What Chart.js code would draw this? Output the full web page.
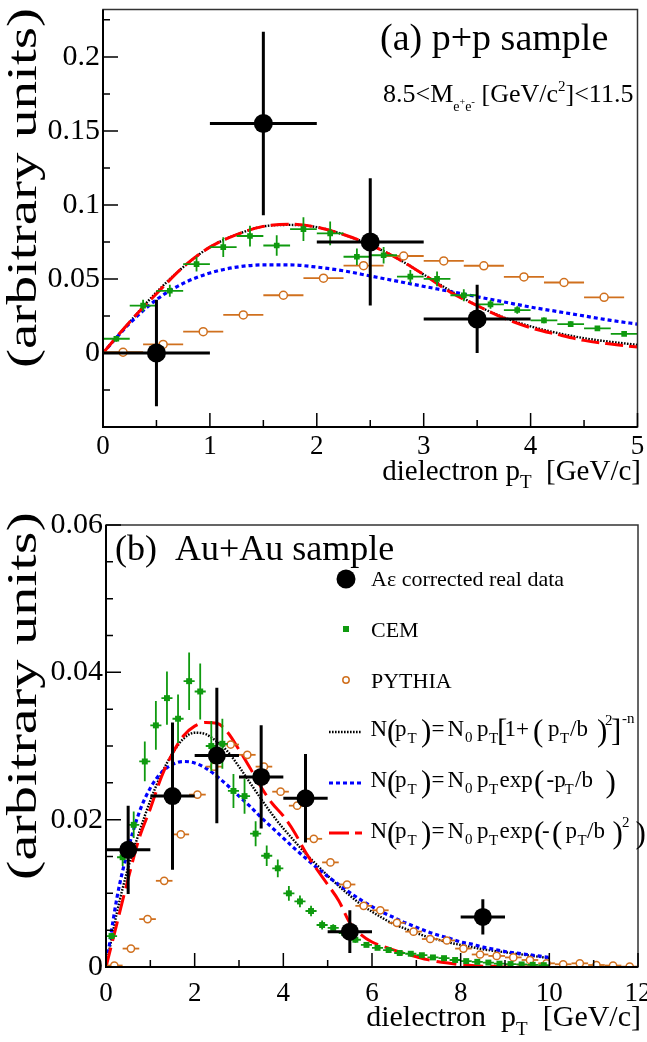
<!DOCTYPE html>
<html><head><meta charset="utf-8">
<script src="https://cdn.jsdelivr.net/npm/chart.js@4/dist/chart.umd.min.js"></script>
<style>
html,body{margin:0;padding:0;background:#fff;}
#wrap{position:relative;width:647px;height:1042px;overflow:hidden;}
#c1{position:absolute;left:0;top:0;}
#c2{position:absolute;left:0;top:500px;}
</style></head><body>
<div id="wrap"><canvas id="c1" width="647" height="500"></canvas><canvas id="c2" width="647" height="542"></canvas></div>
<script>
const FONT = '"Liberation Serif", "Times New Roman", serif';

// ---------------- panel (a): p+p ----------------
const ppDataX  = [0.5, 1.5, 2.5, 3.5];
const ppDataY  = [0.0, 0.155, 0.075, 0.023];
const ppDataEY = [0.036, 0.062, 0.043, 0.023];
const ppDataEX = [0.5, 0.5, 0.5, 0.5];

const ppCemX  = [0.125,0.375,0.625,0.875,1.125,1.375,1.625,1.875,2.125,2.375,2.625,2.875,3.125,3.375,3.625,3.875,4.125,4.375,4.625,4.875];
const ppCemY  = [0.0096,0.032,0.042,0.060,0.0715,0.079,0.0726,0.0837,0.0808,0.065,0.066,0.0516,0.050,0.039,0.0328,0.029,0.022,0.0195,0.0166,0.0129];
const ppCemEY = [0.002,0.004,0.004,0.005,0.0066,0.007,0.007,0.008,0.008,0.0055,0.0055,0.0045,0.005,0.004,0.003,0.0025,0.002,0.002,0.0015,0.0015];

const ppPyX = [0.1875,0.5625,0.9375,1.3125,1.6875,2.0625,2.4375,2.8125,3.1875,3.5625,3.9375,4.3125,4.6875];
const ppPyY = [0.0005,0.0058,0.0144,0.0257,0.039,0.0505,0.059,0.0655,0.0622,0.0589,0.0514,0.0476,0.0376];

const ppFitX  = [0,0.25,0.5,0.75,1,1.25,1.5,1.75,2,2.25,2.5,2.75,3,3.25,3.5,3.75,4,4.25,4.5,4.75,5];
const ppPowY  = [0,0.021,0.041,0.058,0.0715,0.080,0.0855,0.0865,0.085,0.080,0.073,0.064,0.053,0.042,0.032,0.024,0.018,0.0135,0.010,0.0075,0.0055];
const ppExpY  = [0,0.020,0.036,0.047,0.054,0.058,0.0595,0.0595,0.058,0.0555,0.052,0.0485,0.045,0.0415,0.038,0.0345,0.031,0.028,0.025,0.022,0.0195];
const ppGausY = [0,0.021,0.040,0.058,0.0715,0.080,0.0855,0.087,0.085,0.080,0.073,0.064,0.053,0.041,0.032,0.0235,0.017,0.0125,0.0085,0.006,0.004];

const ppXTicks = [0,1,2,3,4,5];
const ppYTicks = [0,0.05,0.1,0.15,0.2];

// ---------------- panel (b): Au+Au ----------------
const auDataX  = [0.5, 1.5, 2.5, 3.5, 4.5, 5.5, 8.5];
const auDataY  = [0.0159, 0.0232, 0.0287, 0.0258, 0.0229, 0.0048, 0.0068];
const auDataEY = [0.006, 0.010, 0.0092, 0.007, 0.006, 0.0029, 0.0024];
const auDataEX = [0.5, 0.5, 0.5, 0.5, 0.5, 0.5, 0.5];

const auCemX = [0.125,0.375,0.625,0.875,1.125,1.375,1.625,1.875,2.125,2.375,2.625,2.875,3.125,3.375,3.625,3.875,4.125,4.375,4.625,4.875,
                5.125,5.375,5.625,5.875,6.125,6.375,6.625,6.875,7.125,7.375,7.625,7.875,8.125,8.375,8.625,8.875,9.125,9.375,9.625,9.875];
const auCemY = [0.0042,0.0149,0.0193,0.0279,0.0328,0.0365,0.0337,0.0388,0.0374,0.0300,0.0303,0.0239,0.0232,0.0181,0.0151,0.0134,0.0100,0.0089,0.0076,0.0057,
                0.0053,0.0046,0.0037,0.0030,0.0026,0.0023,0.0019,0.0018,0.0016,0.0013,0.0012,0.00095,0.0008,0.0007,0.0006,0.00045,0.0004,0.00035,0.0003,0.00025];
const auCemEY = [0.0004,0.0012,0.0018,0.0027,0.0033,0.0036,0.0033,0.0039,0.0038,0.0034,0.0034,0.0023,0.0024,0.0017,0.0014,0.0012,0.0010,0.0008,0.0007,0.0006,
                 0.0005,0.0004,0.0004,0.0003,0.0003,0.0003,0.0002,0.0002,0.0002,0.0002,0.0002,0.0001,0.0001,0.0001,0.0001,0.0001,0.0001,0.0001,0.0001,0.0001];

const auPyX = [0.1875,0.5625,0.9375,1.3125,1.6875,2.0625,2.4375,2.8125,3.1875,3.5625,3.9375,4.3125,4.6875,5.0625,5.4375,5.8125,
               6.1875,6.5625,6.9375,7.3125,7.6875,8.0625,8.4375,8.8125,9.1875,9.5625,9.9375,10.3125,10.6875,11.0625,11.4375,11.8125];
const auPyY = [0.0002,0.0025,0.0065,0.0117,0.0180,0.0234,0.0272,0.0302,0.0288,0.0272,0.0238,0.0219,0.0174,0.0142,0.0112,0.0083,
               0.0077,0.0060,0.0048,0.0038,0.0036,0.0025,0.0017,0.0015,0.0013,0.00095,0.0005,0.00037,0.0005,0.00027,0.0002,0.00005];

const auFitX = [0,0.25,0.5,0.75,1,1.25,1.5,1.75,2,2.25,2.5,2.75,3,3.25,3.5,3.75,4,4.25,4.5,4.75,5,
                5.25,5.5,5.75,6,6.25,6.5,6.75,7,7.25,7.5,7.75,8,8.25,8.5,8.75,9,9.25,9.5,9.75,10];
const auPowY = [0,0.0075,0.0135,0.0183,0.0226,0.0262,0.0290,0.0310,0.0318,0.0316,0.0306,0.0292,0.0272,0.0250,0.0228,0.0207,0.0188,0.0171,0.0154,0.0139,0.0124,
                0.0110,0.0097,0.0085,0.0075,0.0066,0.0058,0.0052,0.0046,0.0041,0.0037,0.0033,0.0030,0.0027,0.0024,0.0022,0.0020,0.0018,0.0016,0.0014,0.0012];
const auExpY = [0,0.0095,0.0160,0.0210,0.0243,0.0264,0.0275,0.0279,0.0277,0.0270,0.0259,0.0246,0.0232,0.0218,0.0203,0.0189,0.0175,0.0161,0.0148,0.0135,0.0123,
                0.0112,0.0101,0.0091,0.0082,0.0074,0.0067,0.0060,0.0054,0.0048,0.0043,0.0039,0.0034,0.0031,0.0027,0.0024,0.0021,0.0019,0.0017,0.0015,0.0013];
const auGausY = [0,0.0060,0.0120,0.0175,0.0215,0.0258,0.0290,0.0314,0.0327,0.0332,0.0331,0.0318,0.0295,0.0270,0.0244,0.0222,0.0205,0.0183,0.0156,0.0133,0.0112,
                 0.0090,0.0060,0.0044,0.0034,0.0028,0.0023,0.0018,0.0014,0.0010,0.0007,0.0005,0.0003,0.0002,0.0001,0.0001,0,0,0,0,0];

const auXTicks = [0,2,4,6,8,10,12];
const auYTicks = [0,0.02,0.04,0.06];

// ---------------- helpers ----------------
const pts = (xs, ys) => xs.map((x, i) => ({x: x, y: ys[i]}));
const GREEN = '#0f9a0f', ORANGE = '#d0701e';

function drawRich(ctx, x, y, parts, align) {
  let w = 0; const ms = [];
  for (const p of parts) { ctx.font = p[1] + 'px ' + FONT; const m = ctx.measureText(p[0]).width; ms.push(m); w += (p[3] || 0) + m; }
  let cx = align === 'right' ? x - w : x;
  ctx.textAlign = 'left'; ctx.textBaseline = 'alphabetic';
  parts.forEach((p, i) => { cx += (p[3] || 0); ctx.font = p[1] + 'px ' + FONT; ctx.fillText(p[0], cx, y + (p[2] || 0)); cx += ms[i]; });
}
// parts: [text, size, dy, x]  (absolute x)
function drawAbs(ctx, y, parts) {
  ctx.textAlign = 'left'; ctx.textBaseline = 'alphabetic';
  for (const p of parts) { ctx.font = p[1] + 'px ' + FONT; ctx.fillText(p[0], p[3], y + p[2]); }
}

function drawYTitle(ctx, cx, cy, len) {
  ctx.save();
  ctx.fillStyle = '#000';
  ctx.font = '42px ' + FONT;
  const w = ctx.measureText('(arbitrary units)').width;
  ctx.translate(cx, cy); ctx.rotate(-Math.PI / 2); ctx.scale(len / w, 1);
  ctx.textAlign = 'center'; ctx.textBaseline = 'alphabetic';
  ctx.fillText('(arbitrary units)', 0, 0);
  ctx.restore();
}

const errPlugin = {
  id: 'errbars',
  beforeDatasetDraw(chart, args) {
    const ds = chart.data.datasets[args.index];
    if (!ds.errX && !ds.errY) return;
    const ctx = chart.ctx, xs = chart.scales.x, ys = chart.scales.y;
    ctx.save();
    ctx.strokeStyle = ds.errColor; ctx.lineWidth = ds.errWidth; ctx.lineCap = 'butt';
    ds.data.forEach((p, i) => {
      const px = xs.getPixelForValue(p.x), py = ys.getPixelForValue(p.y);
      ctx.beginPath();
      if (ds.errX) { ctx.moveTo(xs.getPixelForValue(p.x - ds.errX[i]), py); ctx.lineTo(xs.getPixelForValue(p.x + ds.errX[i]), py); }
      if (ds.errY) { ctx.moveTo(px, ys.getPixelForValue(p.y + ds.errY[i])); ctx.lineTo(px, ys.getPixelForValue(p.y - ds.errY[i])); }
      ctx.stroke();
    });
    ctx.restore();
  }
};

function framePlugin(o) {
  return {
    id: 'frame',
    afterDraw(chart) {
      const ctx = chart.ctx, a = chart.chartArea, xs = chart.scales.x, ys = chart.scales.y;
      ctx.save();
      ctx.strokeStyle = '#333'; ctx.lineWidth = 1.5;
      ctx.strokeRect(a.left, a.top, a.right - a.left, a.bottom - a.top);
      ctx.strokeStyle = '#000'; ctx.lineWidth = 2;
      ctx.beginPath(); ctx.moveTo(a.left, a.top); ctx.lineTo(a.left, a.bottom); ctx.lineTo(a.right, a.bottom); ctx.stroke();
      ctx.lineWidth = 1.5;
      ctx.beginPath();
      for (let i = 0; ; i++) {
        const v = o.xMinorStart + i * o.xMinor; if (v > xs.max + 1e-9) break;
        const major = Math.abs(v / o.xMajor - Math.round(v / o.xMajor)) < 1e-6;
        const px = xs.getPixelForValue(v);
        ctx.moveTo(px, a.bottom); ctx.lineTo(px, a.bottom - (major ? 14 : 7));
      }
      for (let i = 0; ; i++) {
        const v = o.yMinorStart + i * o.yMinor; if (v > ys.max + 1e-9) break;
        const major = Math.abs(v / o.yMajor - Math.round(v / o.yMajor)) < 1e-6;
        const py = ys.getPixelForValue(v);
        ctx.moveTo(a.left, py); ctx.lineTo(a.left + (major ? 15 : 7), py);
      }
      ctx.stroke();
      ctx.fillStyle = '#000';
      o.texts(ctx, chart);
      ctx.restore();
    }
  };
}

function curve(label, xs, ys, color, dash, width) {
  return { label, data: pts(xs, ys), showLine: true, pointRadius: 0, borderColor: color, borderWidth: width,
           borderDash: dash, cubicInterpolationMode: 'monotone', fill: false };
}

function baseOptions(p) {
  return {
    responsive: false, animation: false, events: [], devicePixelRatio: 1,
    layout: { padding: { top: p.top, right: p.right, left: 0, bottom: 0 } },
    plugins: { legend: { display: false }, tooltip: { enabled: false } },
    scales: {
      x: { type: 'linear', min: p.xmin, max: p.xmax, grid: { display: false, drawTicks: false }, border: { display: false },
           afterBuildTicks: s => { s.ticks = p.xTicks.map(v => ({ value: v })); },
           ticks: { font: { family: FONT, size: 27 }, color: '#000', padding: p.xPad, maxRotation: 0, autoSkip: false,
                    callback: v => String(v) },
           afterFit: s => { s.height = p.xH; s.paddingLeft = 0; s.paddingRight = 0; } },
      y: { type: 'linear', min: p.ymin, max: p.ymax, grid: { display: false, drawTicks: false }, border: { display: false },
           afterBuildTicks: s => { s.ticks = p.yTicks.map(v => ({ value: v })); },
           ticks: { font: { family: FONT, size: 30 }, color: '#000', padding: 3, autoSkip: false,
                    callback: v => String(+v.toFixed(3)) },
           afterFit: s => { s.width = p.yW; s.paddingTop = 0; s.paddingBottom = 0; } }
    }
  };
}

const DOT = [1.6, 1.4];

// ---------------- chart (a) ----------------
const optA = baseOptions({ top: 3, right: 6, xmin: 0, xmax: 5, ymin: -0.05, ymax: 0.232, xTicks: ppXTicks, yTicks: ppYTicks,
                           xPad: 4, xH: 73, yW: 103 });
new Chart(document.getElementById('c1'), {
  type: 'scatter',
  data: { datasets: [
    { label: 'data', data: pts(ppDataX, ppDataY), errX: ppDataEX, errY: ppDataEY, errColor: '#000', errWidth: 3,
      pointStyle: 'circle', pointRadius: 9.5, backgroundColor: '#000', borderColor: '#000', borderWidth: 0 },
    { label: 'CEM', data: pts(ppCemX, ppCemY), errX: ppCemX.map(() => 0.125), errY: ppCemEY, errColor: GREEN, errWidth: 1.8,
      pointStyle: 'rect', pointRadius: 4, backgroundColor: GREEN, borderColor: GREEN, borderWidth: 0 },
    { label: 'PYTHIA', data: pts(ppPyX, ppPyY), errX: ppPyX.map(() => 0.1875), errColor: ORANGE, errWidth: 1.8,
      pointStyle: 'circle', pointRadius: 4, backgroundColor: '#fff', borderColor: ORANGE, borderWidth: 1.5 },
    curve('gaus', ppFitX, ppGausY, '#ff0000', [18, 6], 3),
    curve('exp', ppFitX, ppExpY, '#0000ff', [4, 3], 3.2),
    curve('pow', ppFitX, ppPowY, '#000', DOT, 2.4)
  ] },
  options: optA,
  plugins: [errPlugin, framePlugin({
    xMinorStart: 0, xMinor: 0.5, xMajor: 1, yMinorStart: -0.05, yMinor: 0.025, yMajor: 0.05,
    texts(ctx) {
      drawRich(ctx, 380, 50, [['(a) p+p sample', 38]], 'left');
      drawRich(ctx, 383, 102, [['8.5<M', 26], ['e', 14, 9], ['+', 10, 3], ['e', 14, 9], ['-', 11, 3], [' [GeV/c', 26], ['2', 15, -11], [']<11.5', 26]], 'left');
      drawRich(ctx, 641, 480, [['dielectron p', 29], ['T', 19, 8], ['  [GeV/c]', 29]], 'right');
      drawYTitle(ctx, 36, 188, 360);
    }
  })]
});

// ---------------- chart (b) ----------------
const optB = baseOptions({ top: 25, right: 5, xmin: 0, xmax: 12, ymin: 0, ymax: 0.06, xTicks: auXTicks, yTicks: auYTicks,
                           xPad: 11, xH: 75, yW: 106 });
new Chart(document.getElementById('c2'), {
  type: 'scatter',
  data: { datasets: [
    { label: 'data', data: pts(auDataX, auDataY), errX: auDataEX, errY: auDataEY, errColor: '#000', errWidth: 3,
      pointStyle: 'circle', pointRadius: 9, backgroundColor: '#000', borderColor: '#000', borderWidth: 0 },
    { label: 'CEM', data: pts(auCemX, auCemY), errX: auCemX.map(() => 0.125), errY: auCemEY, errColor: GREEN, errWidth: 1.8,
      pointStyle: 'rect', pointRadius: 4.2, backgroundColor: GREEN, borderColor: GREEN, borderWidth: 0 },
    { label: 'PYTHIA', data: pts(auPyX, auPyY), errX: auPyX.map(() => 0.1875), errColor: ORANGE, errWidth: 1.8,
      pointStyle: 'circle', pointRadius: 3.6, backgroundColor: '#fff', borderColor: ORANGE, borderWidth: 1.5 },
    curve('gaus', auFitX, auGausY, '#ff0000', [20, 7], 3),
    curve('exp', auFitX, auExpY, '#0000ff', [4, 3], 3.2),
    curve('pow', auFitX, auPowY, '#000', DOT, 2.4)
  ] },
  options: optB,
  plugins: [errPlugin, framePlugin({
    xMinorStart: 0, xMinor: 1, xMajor: 2, yMinorStart: 0, yMinor: 0.005, yMajor: 0.02,
    texts(ctx) {
      drawRich(ctx, 115, 60, [['(b)  Au+Au sample', 36]], 'left');
      // legend markers
      ctx.beginPath(); ctx.arc(346, 79, 9.5, 0, 2 * Math.PI); ctx.fill();
      ctx.fillStyle = GREEN; ctx.fillRect(343, 126, 6, 6);
      ctx.strokeStyle = ORANGE; ctx.lineWidth = 1.5; ctx.beginPath(); ctx.arc(346, 180, 3.2, 0, 2 * Math.PI); ctx.stroke();
      ctx.fillStyle = '#000';
      drawRich(ctx, 371, 86, [['A\u03b5 corrected real data', 22]], 'left');
      drawRich(ctx, 371, 137, [['CEM', 22]], 'left');
      drawRich(ctx, 371, 188, [['PYTHIA', 22]], 'left');
      // legend line samples
      const seg = (y, c, d, w) => { ctx.save(); ctx.strokeStyle = c; ctx.lineWidth = w; ctx.setLineDash(d); ctx.beginPath(); ctx.moveTo(329, y); ctx.lineTo(362, y); ctx.stroke(); ctx.restore(); };
      seg(232, '#000', DOT, 2.4);
      seg(283, '#0000ff', [4, 3], 3.2);
      seg(333, '#ff0000', [20, 6], 3);
      const B = 23, P = 31, S = 15;
      const head = [['N', B, 0, 370.5], ['(', P, 5, 387], ['p', B, 0, 395], ['T', S, 7, 407.5], [')', P, 5, 421], ['=', B, 0, 431.5],
                    ['N', B, 0, 447.5], ['0', S, 6, 465], ['p', B, 0, 477], ['T', S, 7, 489]];
      drawAbs(ctx, 236, head.concat([['[', P, 5, 497], ['1+', B, 0, 504.5], ['(', P, 5, 533], ['p', B, 0, 548], ['T', S, 7, 560],
                                    ['/b', B, 0, 570], [')', P, 5, 597], ['2', S, -11, 605], [']', P, 5, 611], ['-n', S, -13, 622]]));
      drawAbs(ctx, 287, head.concat([['exp', B, 0, 499.5], ['(', P, 5, 534], ['-p', B, 0, 546.5], ['T', S, 7, 564.5], ['/b', B, 0, 575], [')', P, 5, 605.5]]));
      drawAbs(ctx, 338, head.concat([['exp', B, 0, 499.5], ['(', P, 5, 534], ['-', B, 0, 542], ['(', P, 5, 552], ['p', B, 0, 565.5], ['T', S, 7, 577.5],
                                    ['/b', B, 0, 587], [')', P, 5, 612.5], ['2', S, -11, 622], [')', P, 5, 635.5]]));
      drawRich(ctx, 641, 526, [['dielectron  p', 30], ['T', 19, 9], ['  [GeV/c]', 30]], 'right');
      drawYTitle(ctx, 36, 196, 368);
    }
  })]
});
</script>
</body></html>
